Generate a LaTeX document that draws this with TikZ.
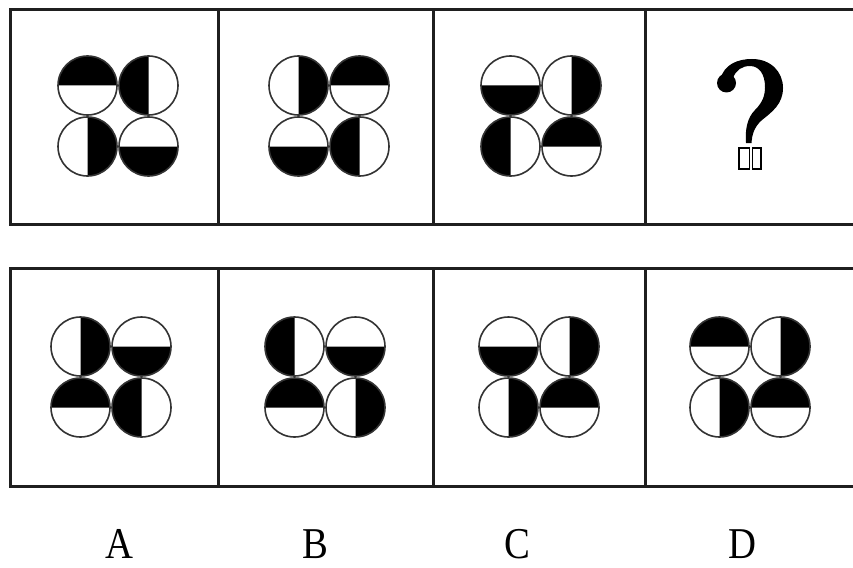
\documentclass[tikz,border=0pt]{standalone}
\usepackage{fontspec}
\setmainfont{Liberation Serif}
\newcommand\coinset[6]{%
  \pic at (#1-30.5,#2-30.5) {coin=#3};
  \pic at (#1+30.5,#2-30.5) {coin=#4};
  \pic at (#1-30.5,#2+30.5) {coin=#5};
  \pic at (#1+30.5,#2+30.5) {coin=#6};
}
\begin{document}
\begin{tikzpicture}[x=1pt,y=-1pt,
  frame/.style={line width=3pt, draw=black!88},
  ring/.style={line width=1.6pt, draw=black!80},
  pics/coin/.style={code={
    \fill[black] (#1:29.5) arc[start angle=#1, end angle=#1+180, radius=29.5] -- cycle;
    \draw[ring] (0,0) circle[radius=29.5];
  }},
  lab/.style={font=\fontsize{44}{44}\selectfont, inner sep=0pt}]
\fill[white] (0,0) rectangle (853,567);
\useasboundingbox (0,0) rectangle (853,567);
% frames
\draw[frame] (870,10) -- (10,10) -- (10,224) -- (870,224);
\draw[frame] (218,10) -- (218,224) (433,10) -- (433,224) (645,10) -- (645,224);
\draw[frame] (870,268) -- (10,268) -- (10,486) -- (870,486);
\draw[frame] (218,268) -- (218,486) (433,268) -- (433,486) (645,268) -- (645,486);
% top row
\coinset{118}{116}{180}{90}{-90}{0}
\coinset{329}{116}{-90}{180}{0}{90}
\coinset{541}{116}{0}{-90}{90}{180}
% question mark (hook drawn as a shape, dot as a small double box)
\fill[black] (720,80) .. controls (724,64) and (738,59) .. (752,59)
  .. controls (771,59) and (783,72) .. (783,88)
  .. controls (783,104) and (772,112) .. (762,120)
  .. controls (754,127) and (752,135) .. (751.5,143)
  -- (746,143)
  .. controls (745,130) and (747,118) .. (755,110)
  .. controls (763,102) and (765,95) .. (765,87)
  .. controls (765,74) and (759,66) .. (750,66)
  .. controls (742,66) and (736,70) .. (733,78) -- cycle;
\fill[black] (726.5,83) circle[radius=9.5];
\draw[line width=1.8pt] (739,148) rectangle (749.5,169) (752.5,148) rectangle (761,169);
% bottom row
\coinset{111}{377}{-90}{0}{180}{90}
\coinset{325}{377}{90}{0}{180}{-90}
\coinset{539}{377}{0}{-90}{-90}{180}
\coinset{750}{377}{180}{-90}{-90}{180}
% labels
\node[lab] (la) at (119,544) {\scalebox{0.88}[1]{A}};
\node[lab] (lb) at (315,544) {\scalebox{0.88}[1]{B}};
\node[lab] (lc) at (517,544) {\scalebox{0.88}[1]{C}};
\node[lab] (ld) at (742,544) {\scalebox{0.88}[1]{D}};
\end{tikzpicture}
\end{document}
